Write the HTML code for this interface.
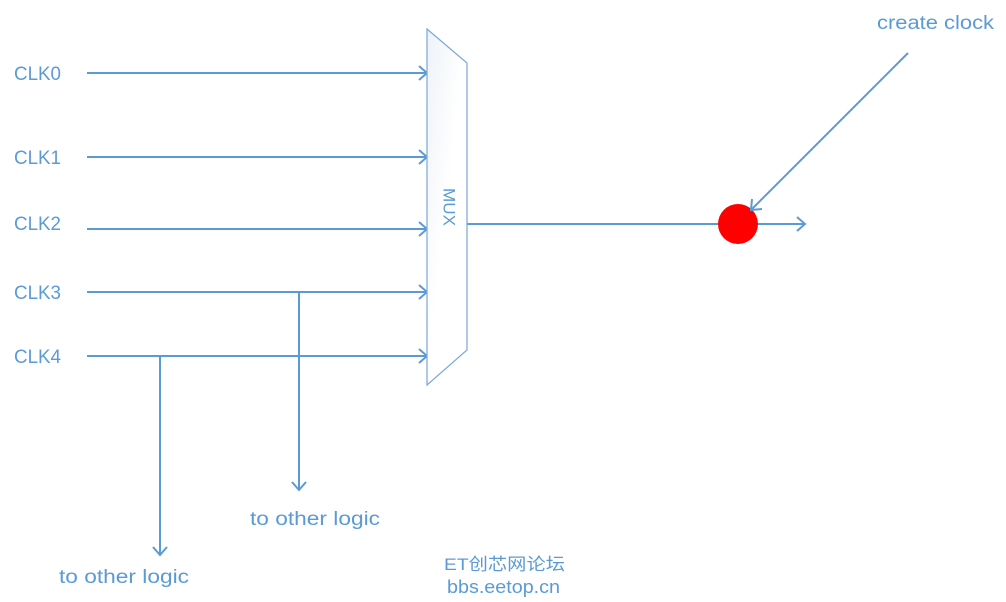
<!DOCTYPE html>
<html><head><style>
html,body{margin:0;padding:0;background:#fff;width:1006px;height:602px;overflow:hidden}
svg{display:block}
text{font-family:"Liberation Sans","Noto Sans CJK SC",sans-serif;fill:#5b9bd5}
</style></head><body>
<svg width="1006" height="602" xmlns="http://www.w3.org/2000/svg">
<defs>
<linearGradient id="g" x1="0" y1="0" x2="1" y2="1"><stop offset="0" stop-color="#eef2f8"/><stop offset="0.5" stop-color="#fff"/></linearGradient>
</defs>
<g stroke="#5b9bd5" stroke-width="2" fill="none">
<line x1="87" y1="73" x2="427" y2="73"/><polyline points="419,66 427,73 419,80"/>
<line x1="87" y1="157" x2="427" y2="157"/><polyline points="419,150 427,157 419,164"/>
<line x1="87" y1="229" x2="427" y2="229"/><polyline points="419,222 427,229 419,236"/>
<line x1="87" y1="292" x2="427" y2="292"/><polyline points="419,285 427,292 419,299"/>
<line x1="87" y1="356" x2="427" y2="356"/><polyline points="419,349 427,356 419,363"/>
<line x1="299" y1="292" x2="299" y2="490"/><polyline points="292,482 299,490 306,482"/>
<line x1="160" y1="356" x2="160" y2="555"/><polyline points="153,547 160,555 167,547"/>
<line x1="467" y1="224" x2="805" y2="224"/><polyline points="797,217 805,224 797,231"/>
</g>
<polygon points="427,29 467,63 467,350 427,385" fill="url(#g)" stroke="#7aa7d8" stroke-width="1.2"/>
<text x="448" y="207" font-size="17" textLength="38" lengthAdjust="spacingAndGlyphs" transform="rotate(90 448 207)" text-anchor="middle" dominant-baseline="middle">MUX</text>
<circle cx="738" cy="224" r="20" fill="#ff0000"/>
<g stroke="#5b9bd5" stroke-width="2" fill="none">
<line x1="908" y1="53" x2="751" y2="210"/><polyline points="752,199 751,210 762,209"/>
</g>
<g font-size="19">
<text x="14" y="80" textLength="47" lengthAdjust="spacingAndGlyphs">CLK0</text>
<text x="14" y="164" textLength="47" lengthAdjust="spacingAndGlyphs">CLK1</text>
<text x="14" y="230" textLength="47" lengthAdjust="spacingAndGlyphs">CLK2</text>
<text x="14" y="299" textLength="47" lengthAdjust="spacingAndGlyphs">CLK3</text>
<text x="14" y="363" textLength="47" lengthAdjust="spacingAndGlyphs">CLK4</text>
<text x="877" y="29" textLength="117" lengthAdjust="spacingAndGlyphs">create clock</text>
<text x="250" y="525" textLength="130" lengthAdjust="spacingAndGlyphs">to other logic</text>
<text x="59" y="583" textLength="130" lengthAdjust="spacingAndGlyphs">to other logic</text>
</g>
<text x="444" y="570" font-size="17" textLength="121" lengthAdjust="spacingAndGlyphs">ET创芯网论坛</text>
<text x="447" y="593" font-size="18" textLength="113" lengthAdjust="spacingAndGlyphs">bbs.eetop.cn</text>
</svg>
</body></html>
